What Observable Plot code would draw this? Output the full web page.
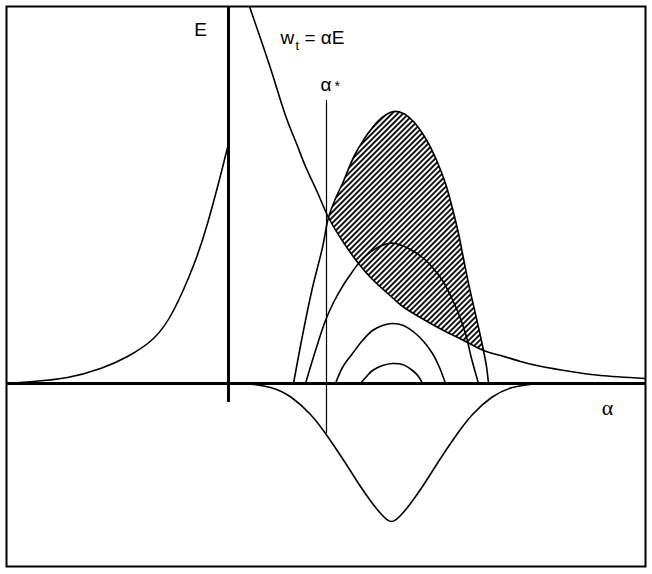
<!DOCTYPE html>
<html><head><meta charset="utf-8">
<script src="https://cdn.jsdelivr.net/npm/d3@7"></script>
<script src="https://cdn.jsdelivr.net/npm/@observablehq/plot@0.6"></script>
<style>body{margin:0;background:#fff}</style>
</head><body><div id="chart"></div>
<script>
// E(alpha) for alpha < 0
const leftAlpha = [-2.21,-1.95,-1.61,-1.28,-1.01,-0.75,-0.55,-0.35,-0.21,-0.08,-0.01];
const leftE     = [0.00,0.02,0.06,0.15,0.27,0.45,0.73,1.18,1.60,2.08,2.36];
// w_t = alpha E (decreasing curve)
const hypAlpha = [0.21,0.32,0.44,0.57,0.68,0.77,0.89,1.00,1.15,1.30,1.44,1.57,1.67,1.77,1.97,2.17,2.37,2.55,2.72,2.92,3.13,3.42,3.72,4.17];
const hypE     = [3.77,3.45,3.09,2.68,2.40,2.17,1.91,1.66,1.41,1.20,1.04,0.92,0.83,0.75,0.63,0.52,0.42,0.33,0.28,0.22,0.17,0.12,0.08,0.05];
// outer loop
const loop1Alpha = [0.65,0.74,0.84,0.94,1.00,1.07,1.14,1.27,1.44,1.55,1.65,1.75,1.84,1.92,2.00,2.09,2.17,2.24,2.30,2.35,2.40,2.45,2.50,2.55,2.58,2.60];
const loop1E     = [0.00,0.48,0.96,1.36,1.66,1.85,2.00,2.30,2.56,2.67,2.72,2.70,2.63,2.53,2.40,2.21,2.00,1.75,1.50,1.25,1.00,0.78,0.56,0.33,0.17,0.00];
// second loop
const loop2Alpha = [0.77,0.87,0.97,1.05,1.14,1.22,1.30,1.44,1.60,1.67,1.80,1.94,2.04,2.14,2.22,2.30,2.37,2.43,2.50];
const loop2E     = [0.00,0.33,0.63,0.81,0.97,1.09,1.20,1.33,1.40,1.40,1.35,1.26,1.16,1.03,0.88,0.70,0.50,0.25,0.00];
// third loop
const loop3Alpha = [1.07,1.14,1.24,1.34,1.44,1.54,1.64,1.75,1.87,1.96,2.04,2.11,2.17];
const loop3E     = [0.00,0.16,0.30,0.43,0.53,0.58,0.60,0.58,0.50,0.41,0.30,0.16,0.00];
// fourth loop
const loop4Alpha = [1.32,1.38,1.44,1.54,1.64,1.74,1.84,1.90,1.94];
const loop4E     = [0.00,0.07,0.13,0.18,0.20,0.19,0.13,0.07,0.00];
// negative bell
const bellAlpha = [0.17,0.42,0.63,0.82,0.97,1.14,1.30,1.44,1.54,1.63,1.72,1.82,1.96,2.12,2.29,2.44,2.63,2.84,3.09];
const bellE     = [0.00,-0.04,-0.14,-0.31,-0.50,-0.75,-1.00,-1.20,-1.32,-1.38,-1.32,-1.20,-1.00,-0.75,-0.50,-0.31,-0.14,-0.04,0.00];
// alpha*
const alphaStar = 0.98;

const pts = (A, E) => A.map((a, i) => ({a, e: E[i]}));
const left = pts(leftAlpha, leftE);
const hyp = pts(hypAlpha, hypE);
const loop1 = pts(loop1Alpha, loop1E);
const loop2 = pts(loop2Alpha, loop2E);
const loop3 = pts(loop3Alpha, loop3E);
const loop4 = pts(loop4Alpha, loop4E);
const bell = pts(bellAlpha, bellE);
// hatched region: between outer loop (top) and the w_t curve (bottom)
const aL = 1.00, aR = 2.55;
const shade = loop1.filter(d => d.a >= aL - 1e-9 && d.a <= aR + 1e-9)
  .concat(hyp.filter(d => d.a >= aL - 1e-9 && d.a <= aR + 1e-9).reverse());

const lw = 1.6;
const lineOpts = {x: "a", y: "e", stroke: "black", strokeWidth: lw, curve: "catmull-rom"};
const fnOpts = {x: "a", y: "e", stroke: "black", strokeWidth: lw, curve: "natural"};

const chart = Plot.plot({
  width: 652, height: 574,
  marginLeft: 6, marginRight: 7, marginTop: 6, marginBottom: 8,
  x: {domain: [-2.22, 4.17], axis: null},
  y: {domain: [-1.83, 3.77], axis: null},
  style: {fontFamily: "Liberation Sans", background: "white", color: "black"},
  marks: [
    Plot.line(shade, {x: "a", y: "e", fill: "url(#hatch)", stroke: "none", curve: "catmull-rom"}),
    Plot.ruleY([0], {x1: -2.22, x2: 4.17, stroke: "black", strokeWidth: 3}),
    Plot.ruleX([0], {y1: -0.19, y2: 3.77, stroke: "black", strokeWidth: 3}),
    Plot.ruleX([alphaStar], {y1: -0.50, y2: 2.83, stroke: "black", strokeWidth: 1.2}),
    Plot.line(left, fnOpts),
    Plot.line(hyp, {...fnOpts, clip: true}),
    Plot.line(loop1, lineOpts),
    Plot.line(loop2, lineOpts),
    Plot.line(loop3, lineOpts),
    Plot.line(loop4, lineOpts),
    Plot.line(bell, fnOpts),
    Plot.text(["E"], {x: -0.28, y: 3.48, textAnchor: "middle", lineAnchor: "bottom", fontSize: 19, fill: "black"}),
    Plot.text(["w"], {x: 0.52, y: 3.40, textAnchor: "start", lineAnchor: "bottom", fontSize: 19, fill: "black"}),
    Plot.text(["t"], {x: 0.67, y: 3.34, textAnchor: "start", lineAnchor: "bottom", fontSize: 13, fill: "black"}),
    Plot.text(["= αE"], {x: 0.76, y: 3.40, textAnchor: "start", lineAnchor: "bottom", fontSize: 19, fill: "black"}),
    Plot.text(["α"], {x: 0.92, y: 2.93, textAnchor: "start", lineAnchor: "bottom", fontSize: 19, fill: "black"}),
    Plot.text(["*"], {x: 1.06, y: 2.93, textAnchor: "start", lineAnchor: "bottom", fontSize: 14, fill: "black"}),
    Plot.text(["α"], {x: 3.79, y: -0.31, textAnchor: "middle", lineAnchor: "bottom", fontSize: 22, fontFamily: "Liberation Serif", fill: "black"}),
    Plot.frame({stroke: "black", strokeWidth: 2})
  ]
});

d3.select(chart).insert("defs", ":first-child").html(
  '<pattern id="hatch" patternUnits="userSpaceOnUse" width="3.9" height="3.9" patternTransform="rotate(45)">' +
  '<line x1="1.95" y1="-1" x2="1.95" y2="4.9" stroke="black" stroke-width="1.8"/></pattern>');

document.getElementById("chart").appendChild(chart);
</script>
</body></html>
